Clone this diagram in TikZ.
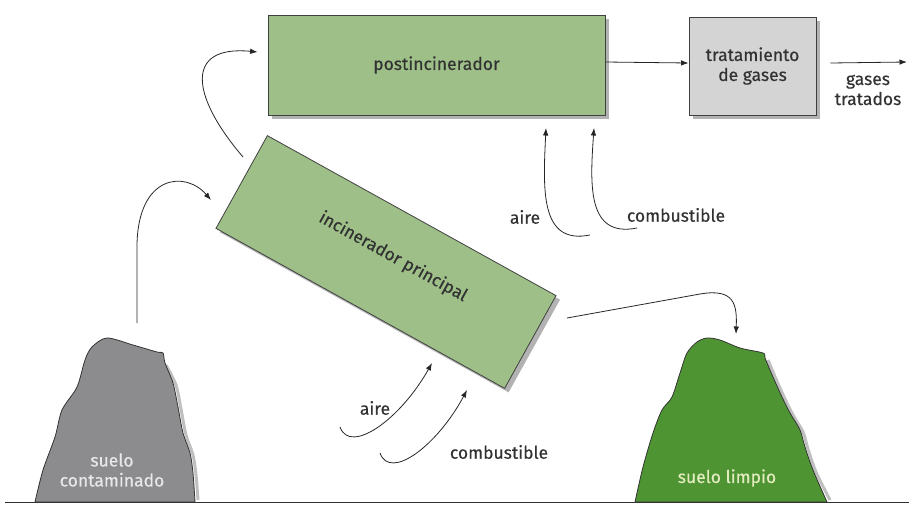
\documentclass[tikz,border=0pt]{standalone}
\usepackage{fontspec}
\setmainfont{Fira Sans}[FakeBold=0.4]
\usetikzlibrary{arrows.meta,shadows}
\definecolor{boxgreen}{RGB}{158,192,136}
\definecolor{boxgray}{RGB}{212,212,212}
\definecolor{rockgray}{RGB}{140,140,143}
\definecolor{rockgreen}{RGB}{79,148,51}
\definecolor{textgray}{RGB}{50,50,50}
\definecolor{contamtext}{RGB}{232,232,232}
\definecolor{limpiotext}{RGB}{226,236,190}

\begin{document}
\begin{tikzpicture}[x=1pt, y=-1pt,
    font=\fontsize{17.5}{20}\selectfont,
    every node/.style={text=textgray},
    box/.style={draw=black!75, line width=0.8pt,
        drop shadow={shadow xshift=4pt, shadow yshift=-4pt, fill=black!30, opacity=1}},
    rockline/.style={draw=black!80, line width=0.8pt},
    flow/.style={draw=black!85, line width=0.8pt, -{Latex[length=7.5pt,width=5.5pt]}}]
    \useasboundingbox (0,0) rectangle (909,504);
    % ground and rocks
    \draw[line width=3pt, black!25] plot[smooth] coordinates {(166,365) (176,385) (181,409) (186,435) (193,455) (196,475) (198,500)};
    \draw[rockline, fill=rockgray] plot[smooth, tension=.5] coordinates {(35,502) (43,470) (55,437) (62,410) (77,387) (85,360) (92,347) (107,338) (133,345) (157,352) (163,353) (165,363) (173,383) (178,407) (183,433) (190,453) (193,473) (195,502)} -- cycle;
    \draw[line width=3pt, black!25] plot[smooth] coordinates {(768,360) (776,379) (785,399) (793,415) (803,432) (808,449) (816,472) (830,500)};
    \draw[rockline, fill=rockgreen] plot[smooth, tension=.5] coordinates {(635,502) (643,467) (653,433) (662,410) (672,397) (680,373) (687,353) (697,342) (707,338) (720,340) (740,348) (763,353) (765,358) (773,377) (782,397) (790,413) (800,430) (805,447) (813,470) (827,502)} -- cycle;
    \draw[line width=0.8pt, black!80] (5,502) -- (909,502);
    \node[text=contamtext, align=center] (contam) at (112,470) {suelo\\contaminado};
    \node[text=limpiotext] (limpio) at (727,478) {suelo limpio};
    % boxes
    \node[box, fill=boxgreen, minimum width=337pt, minimum height=100pt] (post) at (436.5,65) {postincinerador};
    \node[box, fill=boxgray, minimum width=127pt, minimum height=98pt, align=center] (trat) at (752.5,66) {tratamiento\\de gases};
    \node[box, fill=boxgreen, rotate=-29, minimum width=330pt, minimum height=106pt] (inc) at (386,262) {};
    \node[rotate=-29] (inctxt) at (393,257) {incinerador principal};
    \node[align=center] (gastxt) at (868,90) {gases\\tratados};
    \node (aireA) at (375,408) {aire};
    \node (combA) at (499,452) {combustible};
    \node (aireB) at (525,217) {aire};
    \node (combB) at (676,215) {combustible};
    % free ends
    \coordinate (contamtop) at (137,323);
    \coordinate (incin) at (211,200);
    \coordinate (incout) at (243,157);
    \coordinate (incright) at (567,318);
    \coordinate (limpiotop) at (736,334);
    \coordinate (gasout) at (907,62);
    \coordinate (aireAs) at (340,427);
    \coordinate (aireAe) at (432,363);
    \coordinate (combAs) at (380,453);
    \coordinate (combAe) at (467,390);
    \coordinate (aireBs) at (590,235);
    \coordinate (aireBe) at (546,128);
    \coordinate (combBs) at (637,228);
    \coordinate (combBe) at (594,128);
    % flows
    \draw[flow] (contamtop) -- (137,245) .. controls (138,175) and (185,170) .. (incin);
    \draw[flow] (incout) .. controls (190,95) and (185,45) .. ([xshift=-10pt,yshift=13pt]post.west);
    \draw[flow] ([yshift=3pt]post.east) -- ([yshift=3pt]trat.west);
    \draw[flow] ([xshift=14pt,yshift=3pt]trat.east) -- (gasout);
    \draw[flow] (incright) -- (700,294) .. controls (735,288) and (737,305) .. (limpiotop);
    \draw[flow] (aireAs) .. controls (350,455) and (400,420) .. (aireAe);
    \draw[flow] (combAs) .. controls (390,481) and (437,446) .. (combAe);
    \draw[flow] (aireBs) .. controls (540,245) and (543,190) .. (aireBe);
    \draw[flow] (combBs) .. controls (587,238) and (590,185) .. (combBe);
\end{tikzpicture}
\end{document}
